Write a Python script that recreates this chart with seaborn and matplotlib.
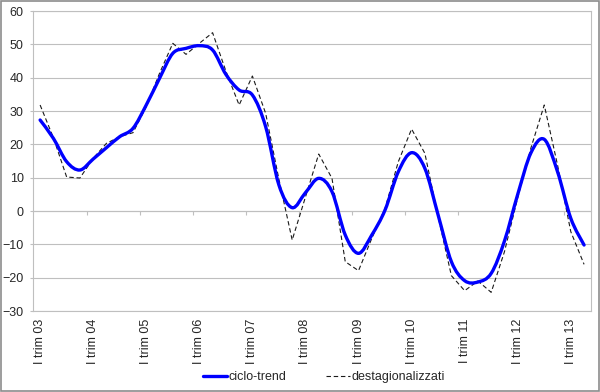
import numpy as np
import pandas as pd
import matplotlib
matplotlib.use("Agg")
import matplotlib.pyplot as plt
import seaborn as sns
from matplotlib.path import Path
from matplotlib.patches import PathPatch, Rectangle
from matplotlib.lines import Line2D

# quarterly series, I trim 03 ... II trim 13
ciclo_trend = [27.3, 21.8, 14.8, 12.3, 15.6, 19.0, 22.3, 24.8, 31.8, 39.8,
               47.3, 48.8, 49.6, 48.3, 41.0, 36.3, 34.8, 25.3, 7.8, 1.0,
               5.5, 9.8, 5.8, -7.2, -12.7, -7.2, 0.3, 11.8, 17.5, 12.8,
               -1.2, -15.2, -20.9, -21.3, -18.7, -9.0, 5.0, 17.5, 21.5, 11.8,
               -2.2, -10.2]
destagionalizzati = [31.8, 22.0, 10.2, 9.9, 15.8, 20.3, 22.3, 23.5, 31.3, 41.3,
                     50.3, 47.0, 50.3, 53.5, 42.0, 31.8, 40.5, 29.3, 9.5, -8.7,
                     4.2, 17.1, 9.8, -15.2, -17.9, -8.2, 0.8, 14.8, 24.6, 17.3,
                     -1.7, -19.4, -23.9, -21.0, -24.4, -12.2, 4.0, 19.0, 31.8, 13.8,
                     -6.2, -16.0]
year_labels = ["I trim %02d" % y for y in range(3, 14)]
y_ticks = list(range(-30, 61, 10))

df = pd.DataFrame({"q": np.arange(len(ciclo_trend)),
                   "ciclo_trend": ciclo_trend,
                   "destagionalizzati": destagionalizzati})

sns.set_style("white")
plt.rcParams["font.family"] = ["Liberation Sans", "DejaVu Sans"]

fig = plt.figure(figsize=(6, 3.92), dpi=100)
ax = fig.add_axes([0.0558, 0.2066, 0.9287, 0.7653])

grid_col = "#BFBFBF"

sns.lineplot(data=df, x="q", y="destagionalizzati", ax=ax, color="#1A1A1A",
             lw=0.8, linestyle=(0, (4, 2.5)), zorder=3)

# smoothed trend line (Excel-style bezier through the points)
pts = df[["q", "ciclo_trend"]].to_numpy(dtype=float)
ext = np.vstack([pts[0], pts, pts[-1]])
verts = [pts[0]]
codes = [Path.MOVETO]
for i in range(len(pts) - 1):
    p0, p1, p2, p3 = ext[i], ext[i + 1], ext[i + 2], ext[i + 3]
    verts += [p1 + (p2 - p0) / 6, p2 - (p3 - p1) / 6, p2]
    codes += [Path.CURVE4] * 3
ax.add_patch(PathPatch(Path(verts, codes), fill=False, edgecolor="#0000FF",
                       lw=2.4, capstyle="round", joinstyle="round", zorder=4))

ax.set_xlim(-0.5, len(ciclo_trend) - 0.5)
ax.set_ylim(-30, 60)
ax.set_yticks(y_ticks)
ax.set_xticks(np.arange(0, len(ciclo_trend), 4))
ax.set_xticklabels(year_labels, rotation=90)
ax.set_xlabel("")
ax.set_ylabel("")
ax.yaxis.grid(True, color=grid_col, lw=0.8)
ax.set_axisbelow(True)
ax.tick_params(axis="x", length=0, pad=5.5, labelsize=9)
ax.tick_params(axis="y", length=2, width=0.8, color=grid_col, pad=5, labelsize=9,
               left=True)
for s in ax.spines.values():
    s.set_color(grid_col)
    s.set_linewidth(0.8)

# category axis crossing at zero
sec = ax.secondary_xaxis(1 / 3)
sec.set_xticks(np.arange(3.5, len(ciclo_trend), 4))
sec.set_xticklabels([])
sec.tick_params(length=3, width=0.8, color=grid_col, direction="out")
sec.spines["bottom"].set_color(grid_col)
sec.spines["bottom"].set_linewidth(0.8)

handles = [Line2D([], [], color="#0000FF", lw=2.4),
           Line2D([], [], color="#1A1A1A", lw=0.8, linestyle=(0, (4, 2.5)))]
fig.legend(handles, ["ciclo-trend", "destagionalizzati"], loc="center",
           bbox_to_anchor=(0.54, 0.038), ncol=2, frameon=False, fontsize=9,
           handlelength=1.9, handletextpad=0.15, columnspacing=3.2)

fig.patches.append(Rectangle((0.0015, 0.0015), 0.997, 0.997, transform=fig.transFigure,
                             fill=False, edgecolor="#8C8C8C", lw=1.2))

fig.savefig("out.png", dpi=100)
